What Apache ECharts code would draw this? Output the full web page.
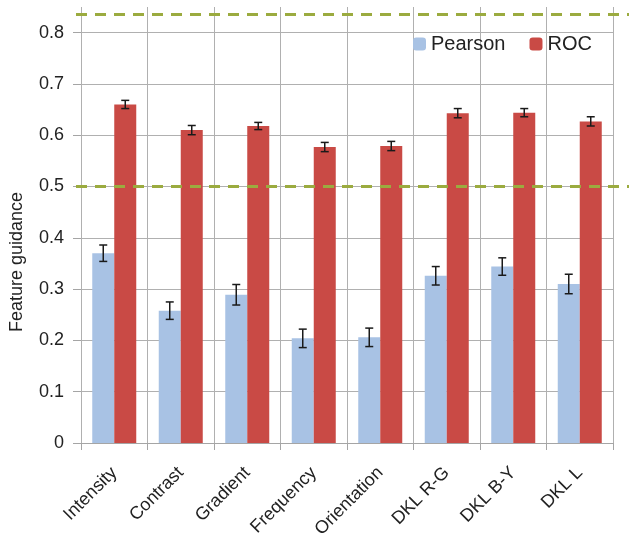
<!DOCTYPE html>
<html><head><meta charset="utf-8">
<script src="https://cdn.jsdelivr.net/npm/echarts@6/dist/echarts.min.js"></script>
<style>html,body{margin:0;padding:0;background:#fff}#c{width:629px;height:545px}</style>
</head><body><div id="c"></div>
<script>
const categories = ['Intensity','Contrast','Gradient','Frequency','Orientation','DKL R-G','DKL B-Y','DKL L'];
const pearson = [0.370, 0.258, 0.289, 0.204, 0.206, 0.326, 0.344, 0.310];
const pearsonErr = [0.016, 0.017, 0.020, 0.018, 0.018, 0.018, 0.017, 0.019];
const roc = [0.660, 0.610, 0.618, 0.577, 0.579, 0.643, 0.644, 0.627];
const rocErr = [0.008, 0.009, 0.007, 0.009, 0.009, 0.009, 0.008, 0.009];
const refLines = [0.835, 0.5];
const yTicks = [0, 0.1, 0.2, 0.3, 0.4, 0.5, 0.6, 0.7, 0.8];

const FONT = 'Liberation Sans';
const chart = echarts.init(document.getElementById('c'), null, {renderer:'canvas'});

function errSeries(vals, errs, side) {
  return {
    type: 'custom',
    silent: true,
    z: 10,
    data: vals.map((v, i) => [i, v, errs[i]]),
    renderItem: function (params, api) {
      const i = api.value(0), v = api.value(1), e = api.value(2);
      const off = side * 11;
      const top = api.coord([i, v + e]);
      const bot = api.coord([i, v - e]);
      const x = top[0] + off;
      const cap = 4;
      const st = {stroke: '#1a1a1a', lineWidth: 1.5};
      return {type: 'group', children: [
        {type: 'line', shape: {x1: x, y1: top[1], x2: x, y2: bot[1]}, style: st},
        {type: 'line', shape: {x1: x - cap, y1: top[1], x2: x + cap, y2: top[1]}, style: st},
        {type: 'line', shape: {x1: x - cap, y1: bot[1], x2: x + cap, y2: bot[1]}, style: st}
      ]};
    }
  };
}

const option = {
  animation: false,
  textStyle: {fontFamily: FONT},
  grid: {left: 81, right: 16, top: 7, bottom: 102, containLabel: false},
  legend: {
    left: 408, top: 29, itemWidth: 13, itemHeight: 13, itemGap: 24,
    textStyle: {fontFamily: FONT, fontSize: 20, color: '#222'},
    data: ['Pearson', 'ROC']
  },
  xAxis: {
    type: 'category', data: categories,
    axisLine: {lineStyle: {color: '#a5a5a5', width: 1}},
    axisTick: {show: true, length: 7, lineStyle: {color: '#a5a5a5'}},
    splitLine: {show: true, lineStyle: {color: '#b0b0b0', width: 1}},
    axisLabel: {rotate: 45, margin: 27, fontSize: 18, color: '#222', fontFamily: FONT, interval: 0}
  },
  yAxis: {
    type: 'value', min: 0, max: 0.85, interval: 0.1,
    name: 'Feature guidance', nameLocation: 'middle', nameGap: 55,
    nameTextStyle: {fontSize: 18, color: '#222', fontFamily: FONT, padding: [0, 74, 0, 0]},
    axisLine: {show: false},
    axisTick: {show: true, length: 8, lineStyle: {color: '#a5a5a5'}},
    axisLabel: {fontSize: 18, color: '#222', margin: 17, fontFamily: FONT, showMaxLabel: false,
      formatter: v => (Math.abs(v*10 - Math.round(v*10)) < 1e-6 && yTicks.indexOf(Math.round(v*10)/10) >= 0) ? String(Math.round(v*10)/10) : ''},
    splitLine: {show: true, showMaxLine: false, lineStyle: {color: '#b0b0b0', width: 1}}
  },
  series: [
    {name: 'Pearson', type: 'bar', data: pearson, barWidth: 22, barGap: '0%',
      itemStyle: {color: '#a8c2e4'}},
    {name: 'ROC', type: 'bar', data: roc, barWidth: 22, barGap: '0%',
      itemStyle: {color: '#c94a45'},
      markLine: {
        silent: true, symbol: ['none', 'none'], label: {show: false},
        lineStyle: {color: '#9bab3f', type: [11, 8], width: 3},
        data: refLines.map(v => [{yAxis: v, x: 76}, {yAxis: v, x: 629}])
      }},
    errSeries(pearson, pearsonErr, -1),
    errSeries(roc, rocErr, 1)
  ]
};
chart.setOption(option);
</script></body></html>
